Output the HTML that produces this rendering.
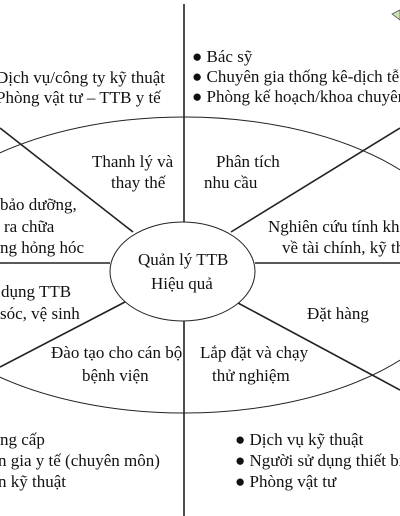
<!DOCTYPE html>
<html><head><meta charset="utf-8"><style>
html,body{margin:0;padding:0;background:#fff;width:400px;height:516px;overflow:hidden}
svg text{font-family:"Liberation Serif",serif;font-size:17px;fill:#111}
</style></head><body>
<svg width="400" height="516" viewBox="0 0 400 516" xmlns="http://www.w3.org/2000/svg">
<g stroke="#222" fill="none">
<ellipse cx="184" cy="265" rx="282" ry="148" stroke-width="1"/>
<line x1="184" y1="4" x2="184" y2="222" stroke-width="1.6"/>
<line x1="184" y1="321" x2="184" y2="516" stroke-width="1.6"/>
<line x1="0" y1="263" x2="110" y2="263" stroke-width="1.6"/>
<line x1="255" y1="263" x2="400" y2="263" stroke-width="1.6"/>
<line x1="0" y1="128" x2="133" y2="232" stroke-width="1.6"/>
<line x1="231" y1="232" x2="400" y2="128" stroke-width="1.6"/>
<line x1="125" y1="302" x2="0" y2="367" stroke-width="1.6"/>
<line x1="238" y1="303" x2="400" y2="390" stroke-width="1.6"/>
<ellipse cx="182.5" cy="271.5" rx="72.5" ry="49.5" fill="#fff" stroke-width="1"/>
</g>
<path d="M392 14 L400 10 L400 20 Z" fill="#cfe3b0" stroke="#556" stroke-width="0.8"/>
<text x="-4" y="83">Dịch vụ/công ty kỹ thuật</text>
<text x="-4" y="103">Phòng vật tư – TTB y tế</text>
<text x="192" y="62">● Bác sỹ</text>
<text x="192" y="82">● Chuyên gia thống kê-dịch tễ</text>
<text x="192" y="102">● Phòng kế hoạch/khoa chuyên</text>
<text x="92" y="167">Thanh lý và</text>
<text x="111" y="188">thay thế</text>
<text x="216" y="167">Phân tích</text>
<text x="204" y="188">nhu cầu</text>
<text x="0" y="210">bảo dưỡng,</text>
<text x="4" y="232">ra chữa</text>
<text x="0" y="253">ng hỏng hóc</text>
<text x="268" y="232">Nghiên cứu tính kh</text>
<text x="282" y="253">về tài chính, kỹ th</text>
<text x="138" y="265">Quản lý TTB</text>
<text x="151" y="289">Hiệu quả</text>
<text x="1" y="297">dụng TTB</text>
<text x="0" y="319">sóc, vệ sinh</text>
<text x="307" y="319">Đặt hàng</text>
<text x="51" y="358">Đào tạo cho cán bộ</text>
<text x="82" y="381">bệnh viện</text>
<text x="200" y="358">Lắp đặt và chạy</text>
<text x="212" y="381">thử nghiệm</text>
<text x="0" y="445">ng cấp</text>
<text x="-2" y="466">n gia y tế (chuyên môn)</text>
<text x="-2" y="487">n kỹ thuật</text>
<text x="235" y="445">● Dịch vụ kỹ thuật</text>
<text x="235" y="466">● Người sử dụng thiết bị</text>
<text x="235" y="487">● Phòng vật tư</text>
</svg>
</body></html>
